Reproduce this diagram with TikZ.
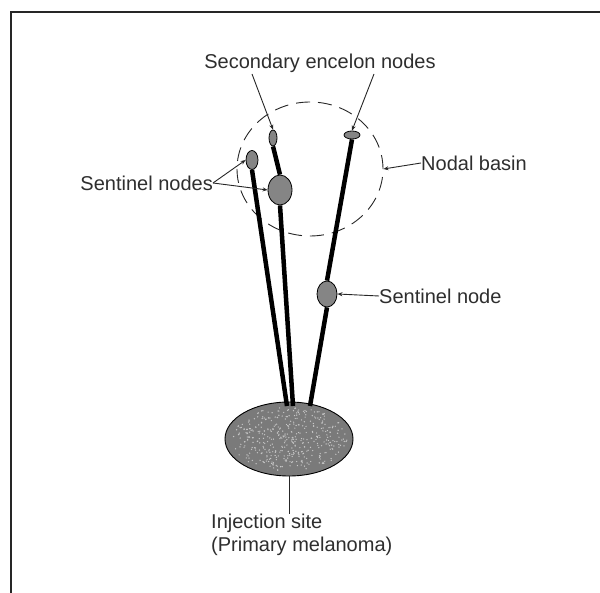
\documentclass[tikz,border=0pt]{standalone}
\usepackage{fontspec}
\setmainfont{Liberation Sans}
\usetikzlibrary{shapes.geometric, arrows.meta}

\begin{document}
\begin{tikzpicture}[x=1pt, y=-1pt, >={Stealth[length=5pt,width=4pt]},
  lymph/.style={ellipse, draw=black, fill=black!48, line width=0.8pt, inner sep=0pt},
  vessel/.style={line width=4.5pt, black},
  leader/.style={line width=0.9pt, black!85},
  lbl/.style={text=black!82, font=\fontsize{20}{23}\selectfont, inner sep=0pt}]
  \useasboundingbox (0,0) rectangle (600,593);
  % frame edges
  \draw[line width=1.4pt, black!85] (11,593) -- (11,12) -- (600,12);
  % primary melanoma with speckles
  \node[ellipse, draw=black, fill=black!52, line width=0.9pt, minimum width=128, minimum height=74, inner sep=0pt] (melanoma) at (289,439) {};
  \pgfmathsetseed{11}
  \foreach \i in {1,...,420} {
    \pgfmathsetmacro\ang{rnd*360}
    \pgfmathsetmacro\rad{sqrt(rnd)}
    \fill[black!22] ({289+58*\rad*cos(\ang)}, {439+32*\rad*sin(\ang)}) circle (0.7);
  }
  % lymph nodes
  \node[lymph, minimum width=12, minimum height=19] (sentA) at (252,160) {};
  \node[lymph, minimum width=24, minimum height=30] (sentB) at (280,190) {};
  \node[lymph, minimum width=20, minimum height=26] (sentC) at (327,294) {};
  \node[lymph, minimum width=8, minimum height=16] (secA) at (273,138) {};
  \node[lymph, minimum width=16, minimum height=8] (secB) at (352,135) {};
  % nodal basin
  \node[ellipse, draw=black!85, dash pattern=on 14pt off 8pt, line width=0.9pt, minimum width=146, minimum height=134, inner sep=0pt] (basin) at (310,169) {};
  % lymphatic channels
  \coordinate (rootA) at (287,406);
  \coordinate (rootB) at (293,406);
  \coordinate (rootC) at (310,406);
  \draw[vessel] (rootA) -- (sentA.south);
  \draw[vessel] (rootB) -- (sentB.south);
  \draw[vessel] (sentB.north) -- (secA.south);
  \draw[vessel] (rootC) -- (sentC.south);
  \draw[vessel] (sentC.north) -- (secB.south);
  % labels
  \node[lbl, anchor=base] (secText) at (320,69) {Secondary encelon nodes};
  \node[lbl, anchor=east] (sentText) at (213,183) {Sentinel nodes};
  \node[lbl, anchor=west] (basinText) at (421,163) {Nodal basin};
  \node[lbl, anchor=west] (oneText) at (379,296) {Sentinel node};
  \node[lbl, anchor=north west, align=left] (injText) at (211,514) {Injection site\\(Primary melanoma)};
  \coordinate (secTa) at (252,74);
  \coordinate (secTb) at (374,74);
  \draw[leader, ->] (secTa) -- (secA.north);
  \draw[leader, ->] (secTb) -- (secB.north);
  \draw[leader, ->] (sentText.east) -- (sentA.west);
  \draw[leader, ->] (sentText.east) -- (sentB.west);
  \draw[leader, ->] (basinText.west) -- (basin.east);
  \draw[leader, ->] (oneText.west) -- (sentC.east);
  \coordinate (injTop) at (289,514);
  \draw[leader] (melanoma.south) -- (injTop);
\end{tikzpicture}
\end{document}
